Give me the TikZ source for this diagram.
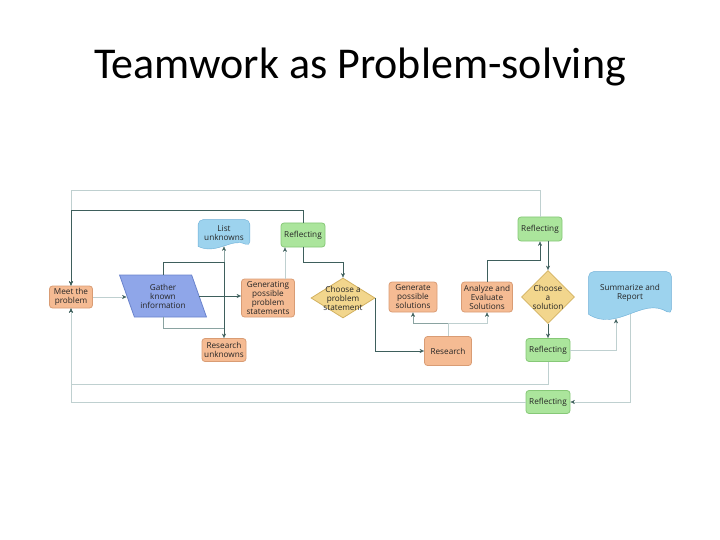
\documentclass[tikz,border=0pt]{standalone}
\usepackage{fontspec}
\setmainfont{Carlito}
\newfontfamily\boxfont{Open Sans}
\usetikzlibrary{arrows.meta, shapes.geometric, calc}
\pgfdeclarelayer{background}
\pgfsetlayers{background,main}

\definecolor{lineDark}{HTML}{3E5F5C}
\definecolor{lineLight}{HTML}{BFD0D0}
\definecolor{lineMid}{HTML}{8AA3A1}
\definecolor{orangeFill}{HTML}{F5BB93}
\definecolor{orangeLine}{HTML}{D99C74}
\definecolor{greenFill}{HTML}{ABE59C}
\definecolor{greenLine}{HTML}{86C877}
\definecolor{blueFill}{HTML}{9DD3EE}
\definecolor{blueLine}{HTML}{6CAED6}
\definecolor{violetFill}{HTML}{8FA6E9}
\definecolor{violetLine}{HTML}{6A83CC}
\definecolor{goldFill}{HTML}{F2D68D}
\definecolor{goldLine}{HTML}{D3B262}

% document shape behind a node: #1 node, #2 height of the wave
\newcommand\docshape[2]{%
  \draw[draw=blueLine, fill=blueFill]
    (#1.south west) [rounded corners=5pt] -- (#1.north west) -- (#1.north east)
    -- (#1.south east) [sharp corners]
    .. controls ($(#1.south east)!0.35!(#1.south west)+(0,-#2)$)
    and ($(#1.south west)!0.35!(#1.south east)+(0,#2)$) .. (#1.south west) -- cycle;}

\begin{document}
\begin{tikzpicture}[
  x=1pt, y=-1pt,
  every node/.style={font=\boxfont\fontsize{8.2}{9}\selectfont, text=black!85,
                     align=center, inner sep=1pt},
  stepbox/.style={draw=orangeLine, fill=orangeFill, rounded corners=3pt},
  reflbox/.style={draw=greenLine, fill=greenFill, rounded corners=3pt,
                  minimum width=44pt, minimum height=24pt},
  iobox/.style={trapezium, trapezium left angle=115, trapezium right angle=65,
                trapezium stretches=true, draw=violetLine, fill=violetFill,
                minimum width=87pt, minimum height=42pt},
  choice/.style={diamond, draw=goldLine, fill=goldFill, inner sep=0pt},
  dk/.style={draw=lineDark, ->},
  md/.style={draw=lineMid, ->},
  lt/.style={draw=lineLight, ->},
  >={Stealth[length=4.5pt, width=4pt, color=lineDark]},
  line width=0.8pt
]
\useasboundingbox (0,0) rectangle (720,540);

% --- Title ---
\node[font=\normalfont\fontsize{44}{50}\selectfont, text=black, anchor=base]
  (title) at (360,79) {Teamwork as Problem-solving};

% --- Understanding the problem ---
\node[stepbox, minimum width=43pt, minimum height=22pt] (meet) at (71,297) {Meet the\\problem};
\node[iobox] (gather) at (163,296) {Gather\\known\\information};
\node[minimum width=51pt, minimum height=26pt] (unknowns) at (224,233) {List\\unknowns};
\node[stepbox, minimum width=44pt, minimum height=23pt] (resunk) at (224,350) {Research\\unknowns};
\node[stepbox, minimum width=53pt, minimum height=38pt] (genstmt) at (268,298) {Generating\\possible\\problem\\statements};
\node[reflbox] (refl1) at (303,235) {Reflecting};
\node[choice, minimum width=64pt, minimum height=40pt,
      label={center:Choose a\\problem\\statement}] (choosestmt) at (343,298) {};

% --- Solving it ---
\node[stepbox, minimum width=48pt, minimum height=30pt] (gensol) at (413,297) {Generate\\possible\\solutions};
\node[stepbox, minimum width=47pt, minimum height=29pt] (research) at (448,351) {Research};
\node[stepbox, minimum width=51pt, minimum height=30pt] (analyze) at (487,297) {Analyze and\\Evaluate\\Solutions};
\node[reflbox] (refl2) at (540,229) {Reflecting};
\node[choice, minimum width=53pt, minimum height=53pt,
      label={center:Choose\\a\\solution}] (choosesol) at (548,297) {};
\node[minimum width=82pt, minimum height=42pt] (summary) at (630,293) {Summarize and\\Report};
\node[reflbox, minimum height=23pt] (refl3) at (548,350) {Reflecting};
\node[reflbox, minimum height=23pt] (refl4) at (548,402) {Reflecting};

% --- Document shapes ---
\begin{pgfonlayer}{background}
\docshape{unknowns}{9}
\docshape{summary}{18}
\end{pgfonlayer}

% === Arrows: loops back to the start ===
\draw[lt] (refl2.north) -- ++(0,-26) -| (meet.north);
\draw[lt] (refl3.south) -- ++(0,22) -| (meet.south);
\draw[lt] (refl4.west) -| (meet.south);
\draw[dk] (refl1.north) -- ++(0,-12) -| (meet.north);

% === Arrows: problem side ===
\draw[lt] (meet.east) -- (meet.east -| gather.west);
\draw[dk] (gather.east) -- (gather.east -| genstmt.west);
\draw[md] (gather.south -| gather.center) -- ++(0,11) -| (unknowns.south);
\draw[dk] (gather.north -| gather.center) -- ++(0,-12) -| (resunk.north);
\draw[lt] ([xshift=17pt]genstmt.north) -- ([xshift=-18pt]refl1.south);
\draw[dk] (refl1.south) -- ++(0,15) -| (choosestmt.north);
\draw[dk] (choosestmt.east) |- (research.west);

% === Arrows: solution side ===
\draw[md] (research.north) -- ++(0,-13) -| (gensol.south);
\draw[lt] (research.north) -- ++(0,-13) -| (analyze.south);
\draw[dk] (analyze.north) -- ++(0,-21) -| (refl2.south);
\draw[dk] (refl2.south -| choosesol.north) -- (choosesol.north);
\draw[dk] (choosesol.south) -- (refl3.north);
\draw[lt] (refl3.east) -| ([xshift=-14pt, yshift=-4.5pt]summary.south);
\draw[lt] (summary.south) |- (refl4.east);

\end{tikzpicture}
\end{document}
